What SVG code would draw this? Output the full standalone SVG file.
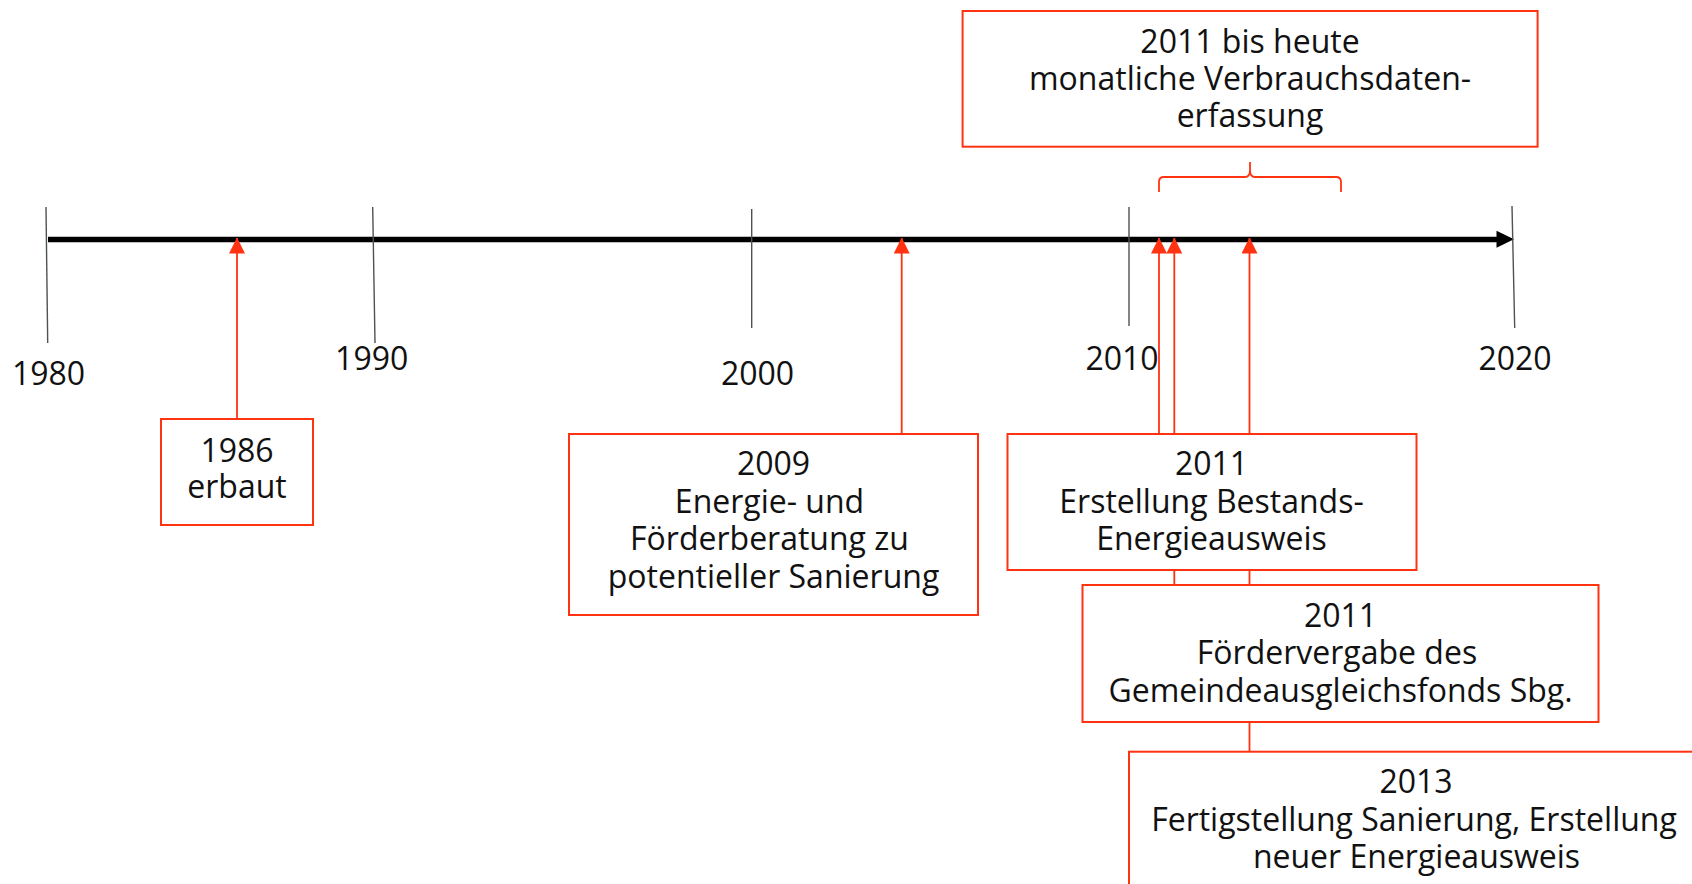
<svg xmlns="http://www.w3.org/2000/svg" width="1692" height="884" viewBox="0 0 1692 884">
  <style>
    .t { font-family: "Open Sans", "Noto Sans", "Liberation Sans", sans-serif; font-size: 32px; fill: #111; text-anchor: middle; }
    .box { fill: #ffffff; stroke: #ff3311; stroke-width: 2; }
    .tick { stroke: #4d5256; stroke-width: 1.4; fill: none; }
    .conn { stroke: #ff3311; stroke-width: 1.8; fill: none; }
  </style>
  <defs>
    <marker id="redHead" markerUnits="userSpaceOnUse" markerWidth="16" markerHeight="16" refX="15.5" refY="8" orient="auto">
      <path d="M0,0 L16,8 L0,16 z" fill="#ff3311"/>
    </marker>
  </defs>
  <rect width="1692" height="884" fill="#ffffff"/>

  <g id="axis">
    <line x1="48" y1="239.5" x2="1499" y2="239.5" stroke="#000" stroke-width="5.5"/>
    <polygon points="1496.5,230.7 1514,239.3 1496.5,247.8" fill="#000"/>
  </g>

  <g id="ticks">
    <line class="tick" x1="46" y1="207" x2="47.7" y2="343"/>
    <line class="tick" x1="372.7" y1="207" x2="375" y2="343"/>
    <line class="tick" x1="751.7" y1="209" x2="751.7" y2="328"/>
    <line class="tick" x1="1129" y1="207" x2="1129" y2="326"/>
    <line class="tick" x1="1512" y1="206" x2="1514.7" y2="328"/>
    <text class="t" x="48.5" y="385">1980</text>
    <text class="t" x="371.7" y="370">1990</text>
    <text class="t" x="757.5" y="385">2000</text>
    <text class="t" x="1122" y="370">2010</text>
    <text class="t" x="1515" y="369.5">2020</text>
  </g>

  <g id="connectors">
    <line class="conn" x1="237" y1="419" x2="237" y2="238" marker-end="url(#redHead)"/>
    <line class="conn" x1="901.7" y1="434" x2="901.7" y2="238" marker-end="url(#redHead)"/>
    <line class="conn" x1="1159" y1="434" x2="1159" y2="238" marker-end="url(#redHead)"/>
    <line class="conn" x1="1174.3" y1="585" x2="1174.3" y2="238" marker-end="url(#redHead)"/>
    <line class="conn" x1="1249.5" y1="751.7" x2="1249.5" y2="238" marker-end="url(#redHead)"/>
    <path class="conn" d="M1159,192 L1159,182 Q1159,177 1164,177 L1245,177 Q1250,177 1250,170 L1250,162 M1250,170 Q1250,177 1255,177 L1336,177 Q1341,177 1341,182 L1341,192"/>
  </g>

  <g id="node-1986">
    <rect class="box" x="161" y="419" width="152" height="106"/>
    <text class="t"><tspan x="237" y="461.5">1986</tspan><tspan x="237" y="497.5">erbaut</tspan></text>
  </g>

  <g id="node-2009">
    <rect class="box" x="569" y="434" width="409" height="181"/>
    <text class="t"><tspan x="773.5" y="475">2009</tspan><tspan x="769.5" y="512.7">Energie- und</tspan><tspan x="769.5" y="550.2">Förderberatung zu</tspan><tspan x="773.5" y="588">potentieller Sanierung</tspan></text>
  </g>

  <g id="node-2011-bestand">
    <rect class="box" x="1007.5" y="434" width="409" height="136"/>
    <text class="t"><tspan x="1211.5" y="475">2011</tspan><tspan x="1211.5" y="512.7">Erstellung Bestands-</tspan><tspan x="1211.5" y="550">Energieausweis</tspan></text>
  </g>

  <g id="node-2011-foerder">
    <rect class="box" x="1082.5" y="585" width="516" height="137"/>
    <text class="t"><tspan x="1340.5" y="626.5">2011</tspan><tspan x="1337" y="663.5">Fördervergabe des</tspan><tspan x="1340.5" y="701.5">Gemeindeausgleichsfonds Sbg.</tspan></text>
  </g>

  <g id="node-2013">
    <rect class="box" x="1129" y="751.7" width="575" height="160"/>
    <text class="t"><tspan x="1416" y="793.3">2013</tspan><tspan x="1414" y="830.7">Fertigstellung Sanierung, Erstellung</tspan><tspan x="1416.5" y="867.7">neuer Energieausweis</tspan></text>
  </g>

  <g id="node-monitoring">
    <rect class="box" x="962.6" y="11" width="575" height="135.7"/>
    <text class="t"><tspan x="1250" y="52.7">2011 bis heute</tspan><tspan x="1250" y="90">monatliche Verbrauchsdaten-</tspan><tspan x="1250" y="126.7">erfassung</tspan></text>
  </g>
</svg>
